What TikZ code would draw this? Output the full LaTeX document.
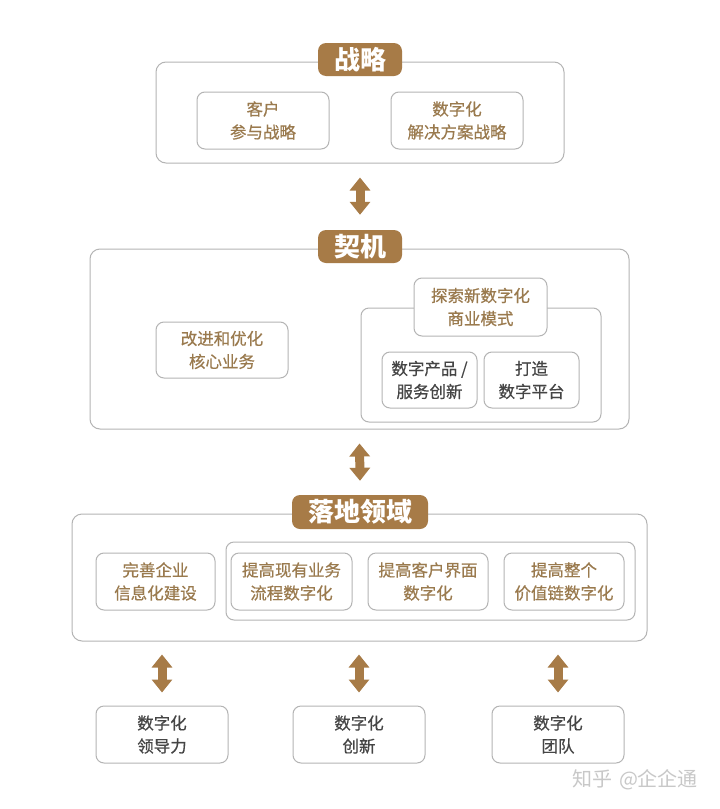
\documentclass[tikz,border=0pt]{standalone}
\usepackage{fontspec}
\setmainfont{Noto Sans CJK SC}
\newfontfamily\boxfont[FakeBold=0.6]{Noto Sans CJK SC}
\usetikzlibrary{arrows.meta}
\definecolor{brownfill}{HTML}{A77B47}
\definecolor{browntext}{HTML}{9A7A4E}
\definecolor{graytext}{HTML}{454545}
\definecolor{boxline}{HTML}{B4B4B4}
\definecolor{wmark}{HTML}{C8C8C8}
\tikzset{
  outerbox/.style={draw=boxline, line width=1pt, rounded corners=10pt, fill=white, inner sep=0pt},
  box/.style={draw=boxline, line width=1pt, rounded corners=8pt, fill=white, inner sep=0pt, align=center,
     font=\boxfont\fontsize{16.5}{23}\selectfont},
  btxt/.style={text=browntext},
  gtxt/.style={text=graytext},
  titlebox/.style={fill=brownfill, rounded corners=8pt, inner sep=0pt, text=white,
     font=\fontsize{26}{30}\selectfont\bfseries},
  biarrow/.style={draw=brownfill, line width=9pt,
     {Triangle[width=20pt,length=13pt]}-{Triangle[width=20pt,length=13pt]}},
}
\begin{document}
\begin{tikzpicture}[x=1pt,y=-1pt]
\useasboundingbox[fill=white] (0,0) rectangle (720,809);

% Strategy
\node[outerbox, minimum width=408pt, minimum height=101pt] (S) at (360,112.5) {};
\node[titlebox, minimum width=84pt, minimum height=33pt] (St) at (360,59.5) {战略};
\node[box, btxt, minimum width=132pt, minimum height=57pt] (s1) at (263,120.5) {客户\\参与战略};
\node[box, btxt, minimum width=132pt, minimum height=57pt] (s2) at (457,120.5) {数字化\\解决方案战略};

% Opportunity
\node[outerbox, minimum width=539pt, minimum height=180pt] (O) at (359.5,339) {};
\node[titlebox, minimum width=84pt, minimum height=33pt] (Ot) at (360,246.5) {契机};
\node[box, btxt, minimum width=132pt, minimum height=56pt] (o1) at (222,350) {改进和优化\\核心业务};
\node[outerbox, rounded corners=8pt, minimum width=240pt, minimum height=114pt] (Oc) at (481,365) {};
\node[box, btxt, minimum width=133pt, minimum height=58pt] (o2) at (480.5,307) {探索新数字化\\商业模式};
\node[box, gtxt, minimum width=95pt, minimum height=56pt] (o3) at (429.5,380) {数字产品 /\\服务创新};
\node[box, gtxt, minimum width=95pt, minimum height=56pt] (o4) at (531.5,380) {打造\\数字平台};

% Landing
\node[outerbox, minimum width=575pt, minimum height=127pt] (L) at (359.5,577.5) {};
\node[titlebox, minimum width=136pt, minimum height=34pt] (Lt) at (360,512) {落地领域};
\node[outerbox, rounded corners=8pt, minimum width=409pt, minimum height=78pt] (Lc) at (430.5,581) {};
\node[box, btxt, minimum width=119pt, minimum height=57pt] (l1) at (155.5,581.5) {完善企业\\信息化建设};
\node[box, btxt, minimum width=121pt, minimum height=57pt] (l2) at (291.5,581.5) {提高现有业务\\流程数字化};
\node[box, btxt, minimum width=120pt, minimum height=57pt] (l3) at (428,581.5) {提高客户界面\\数字化};
\node[box, btxt, minimum width=120pt, minimum height=57pt] (l4) at (564,581.5) {提高整个\\价值链数字化};

% Bottom
\node[box, gtxt, minimum width=132pt, minimum height=57pt] (b1) at (162,734.5) {数字化\\领导力};
\node[box, gtxt, minimum width=132pt, minimum height=57pt] (b2) at (359,734.5) {数字化\\创新};
\node[box, gtxt, minimum width=132pt, minimum height=57pt] (b3) at (558,734.5) {数字化\\团队};

% Arrows
\draw[biarrow] ([yshift=-14pt]S.south) -- ([yshift=15pt]Ot.north);
\draw[biarrow] ([yshift=-14pt]O.south) -- ([yshift=14pt]Lt.north);
\draw[biarrow] ([yshift=-13pt]L.south -| b1.north) -- ([yshift=13pt]b1.north);
\draw[biarrow] ([yshift=-13pt]L.south -| b2.north) -- ([yshift=13pt]b2.north);
\draw[biarrow] ([yshift=-13pt]L.south -| b3.north) -- ([yshift=13pt]b3.north);

% Watermark
\node[text=wmark, font=\fontsize{20}{22}\selectfont, inner sep=0pt] (wm) at (635,780) {知乎\hspace{7pt}@企企通};
\end{tikzpicture}
\end{document}
